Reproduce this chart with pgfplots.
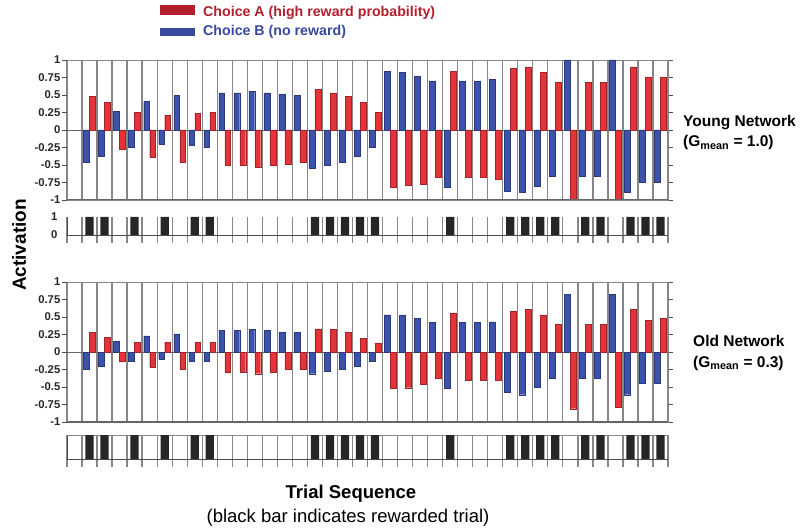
\documentclass[border=0pt]{standalone}
\usepackage{pgfplots}
\pgfplotsset{compat=1.18}
\usepackage{pgfplotstable}
\usepackage{fontspec}
\setmainfont{Liberation Sans}

\definecolor{redbar}{RGB}{228,52,58}
\definecolor{bluebar}{RGB}{60,82,172}
\definecolor{legred}{RGB}{178,30,44}
\definecolor{legblue}{RGB}{56,72,158}
\definecolor{gridg}{RGB}{135,135,135}

\pgfplotstableread{
k blue red
2 -0.46 0.48
3 -0.38 0.39
4 0.27 -0.27
5 -0.25 0.25
6 0.41 -0.39
7 -0.20 0.21
8 0.49 -0.46
9 -0.22 0.24
10 -0.25 0.25
11 0.53 -0.51
12 0.53 -0.51
13 0.55 -0.53
14 0.53 -0.51
15 0.51 -0.49
16 0.49 -0.46
17 -0.55 0.58
18 -0.51 0.53
19 -0.46 0.48
20 -0.38 0.39
21 -0.25 0.25
22 0.84 -0.82
23 0.82 -0.79
24 0.77 -0.77
25 0.70 -0.67
26 -0.82 0.84
27 0.70 -0.67
28 0.70 -0.67
29 0.72 -0.70
30 -0.87 0.88
31 -0.89 0.90
32 -0.80 0.82
33 -0.66 0.68
34 1.00 -1.00
35 -0.66 0.68
36 -0.66 0.68
37 1.00 -1.00
38 -0.89 0.90
39 -0.75 0.76
40 -0.75 0.76
}\young

\pgfplotstableread{
k blue red
2 -0.24 0.28
3 -0.20 0.21
4 0.15 -0.13
5 -0.13 0.14
6 0.23 -0.22
7 -0.10 0.14
8 0.26 -0.25
9 -0.13 0.14
10 -0.13 0.14
11 0.31 -0.29
12 0.31 -0.29
13 0.32 -0.31
14 0.31 -0.29
15 0.28 -0.25
16 0.28 -0.24
17 -0.31 0.33
18 -0.28 0.32
19 -0.25 0.28
20 -0.20 0.20
21 -0.13 0.13
22 0.53 -0.52
23 0.52 -0.51
24 0.48 -0.46
25 0.42 -0.38
26 -0.52 0.56
27 0.42 -0.40
28 0.42 -0.40
29 0.43 -0.40
30 -0.57 0.58
31 -0.61 0.61
32 -0.50 0.53
33 -0.38 0.40
34 0.82 -0.81
35 -0.38 0.40
36 -0.38 0.40
37 0.82 -0.79
38 -0.61 0.61
39 -0.45 0.45
40 -0.44 0.48
}\old

\pgfplotstableread{
k r
2 1
3 1
5 1
7 1
9 1
10 1
17 1
18 1
19 1
20 1
21 1
26 1
30 1
31 1
32 1
33 1
35 1
36 1
38 1
39 1
40 1
}\reward

\pgfplotsset{
  panel/.style={
    scale only axis, width=601pt, height=140pt,
    xmin=0.5, xmax=40.5, ymin=-1, ymax=1,
    xtick={0.5,1.5,...,40.5}, xticklabels={},
    xmajorgrids, major grid style={gridg, line width=1.3pt},
    x tick style={draw=none},
    ytick={-1,-0.75,-0.5,-0.25,0,0.25,0.5,0.75,1},
    yticklabels={-1,-0.75,-0.5,-0.25,0,0.25,0.5,0.75,1},
    yticklabel style={font=\bfseries\fontsize{11.3}{12}\selectfont, inner sep=1.5pt, text=black!85},
    y tick style={black!70, line width=0.8pt},
    tick align=outside, major tick length=5pt,
    axis line style={gridg, line width=0.8pt},
  },
  strip/.style={
    scale only axis, width=601pt,
    xmin=0.5, xmax=40.5, ymin=0, ymax=1,
    xtick={0.5,1.5,...,40.5}, xticklabels={},
    xmajorgrids, major grid style={gridg, line width=1.3pt},
    x tick style={gridg, line width=1.3pt},
    tick align=outside, major tick length=8pt,
    axis x line*=bottom, axis y line*=left,
    axis line style={black!70, line width=0.9pt},
    y tick style={draw=none},
    yticklabel style={font=\bfseries\fontsize{11.3}{12}\selectfont, inner sep=1.5pt, text=black!85},
  },
  bbar/.style={ybar, bar width=0.39, bar shift=-0.2, fill=bluebar, draw=bluebar!70!black, line width=0.4pt},
  rbar/.style={ybar, bar width=0.39, bar shift=0.2, fill=redbar, draw=redbar!70!black, line width=0.4pt},
  kbar/.style={ybar, bar width=0.55, bar shift=0, fill=black!85, draw=none},
}

\begin{document}
\begin{tikzpicture}
\path[use as bounding box] (0pt,0pt) rectangle (800pt,528pt);

% legend
\fill[legred] (160pt,513pt) rectangle (195pt,523pt);
\fill[legblue] (160pt,492pt) rectangle (195pt,500pt);
\node[anchor=base west, inner sep=0pt, text=legred, font=\bfseries\fontsize{14.2}{16}\selectfont] at (203pt,511pt) {Choice A (high reward probability)};
\node[anchor=base west, inner sep=0pt, text=legblue, font=\bfseries\fontsize{14.2}{16}\selectfont] at (203pt,492pt) {Choice B (no reward)};

% young network panel
\begin{axis}[panel, at={(67pt,328pt)}, anchor=south west]
\draw[black!60, line width=0.8pt] (axis cs:0.5,0) -- (axis cs:40.5,0);
\addplot[bbar] table[x=k, y=blue] {\young};
\addplot[rbar] table[x=k, y=red] {\young};
\draw[black!60, line width=1.8pt] (axis cs:0.5,-1) -- (axis cs:40.5,-1);
\end{axis}

\begin{axis}[strip, at={(67pt,293pt)}, anchor=south west, height=18pt,
  ytick={0,1}, yticklabels={0,1}]
\addplot[kbar] table[x=k, y=r] {\reward};
\end{axis}

% old network panel
\begin{axis}[panel, at={(67pt,106pt)}, anchor=south west]
\draw[black!60, line width=0.8pt] (axis cs:0.5,0) -- (axis cs:40.5,0);
\addplot[bbar] table[x=k, y=blue] {\old};
\addplot[rbar] table[x=k, y=red] {\old};
\draw[black!60, line width=1.8pt] (axis cs:0.5,-1) -- (axis cs:40.5,-1);
\end{axis}

\begin{axis}[strip, at={(67pt,69pt)}, anchor=south west, height=24pt,
  ytick=\empty]
\draw[gridg, line width=0.9pt] (axis cs:0.5,1) -- (axis cs:40.5,1);
\addplot[kbar] table[x=k, y=r] {\reward};
\end{axis}

% labels
\node[rotate=90, font=\bfseries\fontsize{19}{22}\selectfont] at (19pt,283pt) {Activation};
\node[anchor=base west, inner sep=0pt, font=\bfseries\fontsize{15.5}{18}\selectfont] at (683pt,401pt) {Young Network};
\node[anchor=base west, inner sep=0pt, font=\bfseries\fontsize{15.5}{18}\selectfont] at (683pt,381pt) {(G\textsubscript{mean} = 1.0)};
\node[anchor=base west, inner sep=0pt, font=\bfseries\fontsize{15.5}{18}\selectfont] at (693pt,182pt) {Old Network};
\node[anchor=base west, inner sep=0pt, font=\bfseries\fontsize{15.5}{18}\selectfont] at (693pt,161pt) {(G\textsubscript{mean} = 0.3)};
\node[anchor=base, inner sep=0pt, font=\bfseries\fontsize{18.5}{22}\selectfont] at (351pt,30pt) {Trial Sequence};
\node[anchor=base, inner sep=0pt, font=\fontsize{18.5}{22}\selectfont] at (348pt,6pt) {(black bar indicates rewarded trial)};
\end{tikzpicture}
\end{document}
